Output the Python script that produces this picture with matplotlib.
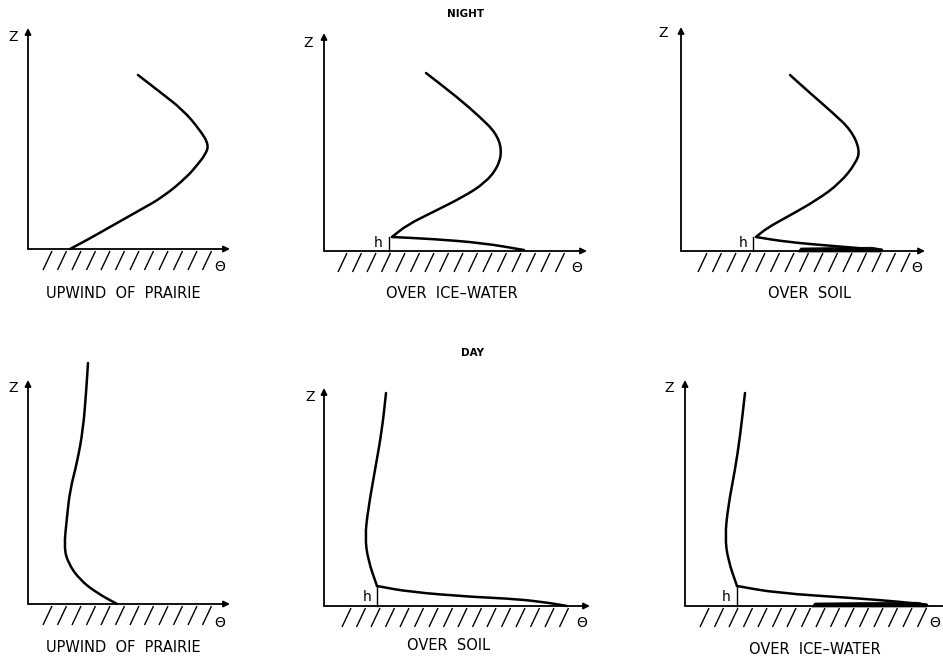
import numpy as np
import matplotlib
matplotlib.use('Agg')
import matplotlib.pyplot as plt
from matplotlib.path import Path
from matplotlib.patches import PathPatch

W, H = 943, 657

# panel data: origin in figure pixels, profile points (theta, z) relative to origin
titles = ['UPWIND  OF  PRAIRIE', 'OVER  ICE\u2013WATER', 'OVER  SOIL',
          'UPWIND  OF  PRAIRIE', 'OVER  SOIL', 'OVER  ICE\u2013WATER']
origins = [(28, 249), (324, 251), (681, 251), (28, 604), (324, 606), (685, 606)]
z_tops = [221, 218, 224, 224, 218, 226]
x_ends = [202, 263, 244, 202, 266, 270]
hatch_ranges = [(15, 175), (14, 243), (17, 229), (15, 175), (18, 243), (15, 240)]
label_pos = [(95, -44), (128, -42), (129, -42), (95, -43), (125, -39), (130, -44)]
z_label_pos = [(-15, 212), (-16, 208), (-18, 218), (-15, 216), (-14, 209), (-16, 218)]
theta_pos = [(192, -18), (253, -17), (236, -17), (192, -19), (258, -17), (250, -17)]

profiles = [
    [(110, 174), (132, 157), (155, 139), (172, 119), (181, 104), (177, 94), (170, 85),
     (159, 72), (135, 52), (112, 39), (82, 22), (59, 9), (42, 0)],
    [(102, 178), (133, 154), (156, 134), (172, 118), (178, 101), (174, 84), (161, 68),
     (139, 54), (109, 39), (83, 26), (68, 14), (109, 12), (159, 8), (200, 1)],
    [(109, 176), (129, 158), (152, 138), (170, 121), (179, 101), (175, 88), (159, 68),
     (136, 51), (106, 34), (86, 23), (75, 14), (106, 9), (152, 5), (201, 1)],
    [(60, 241), (58, 210), (55, 174), (49, 141), (42, 114), (39, 87), (36, 57),
     (40, 41), (52, 24), (69, 11), (89, 0)],
    [(62, 213), (58, 176), (51, 136), (44, 96), (41, 69), (44, 46), (53, 20),
     (86, 14), (149, 9), (193, 7), (226, 3), (243, 0)],
    [(60, 213), (55, 169), (50, 136), (43, 99), (40, 69), (43, 46), (52, 20),
     (92, 13), (168, 8), (218, 4), (242, 1)],
]
# index of the sharp corner at the top of the surface layer (None = smooth throughout)
kinks = [None, 10, 10, None, 6, 6]

# inversion layer depth h: (theta position, top, text x, text y)
h_marks = [None, (65, 14, 54, 8), (72, 14, 62, 8), None, (53, 20, 43, 9), (52, 20, 41, 9)]
# thick surface band (panels with ice/soil contrast): theta start, end
wedges = [None, None, (117, 201), None, None, (127, 242)]

fig = plt.figure(figsize=(W / 100, H / 100), dpi=100)
fig.patch.set_facecolor('white')

XL, XR, YB, YT = -40, 270, -60, 265


def smooth_path(pts):
    # quadratic bezier through midpoints, points act as control points
    pts = np.asarray(pts, dtype=float)
    if len(pts) < 3:
        return Path(pts)
    verts = [pts[0], (pts[0] + pts[1]) / 2]
    codes = [Path.MOVETO, Path.LINETO]
    for k in range(1, len(pts) - 1):
        verts += [pts[k], (pts[k] + pts[k + 1]) / 2]
        codes += [Path.CURVE3, Path.CURVE3]
    verts.append(pts[-1])
    codes.append(Path.LINETO)
    return Path(verts, codes)


for i in range(6):
    x0, y0 = origins[i]
    left = (x0 + XL) / W
    bottom = (H - (y0 - YB)) / H
    ax = fig.add_axes([left, bottom, (XR - XL) / W, (YT - YB) / H])
    ax.set_xlim(XL, XR)
    ax.set_ylim(YB, YT)
    ax.axis('off')
    ax.patch.set_alpha(0)

    # axes with arrows
    ax.annotate('', xy=(0, z_tops[i]), xytext=(0, 0),
                arrowprops=dict(arrowstyle='-|>', lw=1.3, color='k', mutation_scale=9,
                                shrinkA=0, shrinkB=0))
    ax.annotate('', xy=(x_ends[i], 0), xytext=(0, 0),
                arrowprops=dict(arrowstyle='-|>', lw=1.3, color='k', mutation_scale=9,
                                shrinkA=0, shrinkB=0))

    # hatching of the ground
    hs, he = hatch_ranges[i]
    for hx in np.arange(hs, he, 14.5):
        ax.plot([hx, hx + 9], [-21, -2], color='k', lw=1.0, solid_capstyle='butt')

    # profile (split at the kink so the corner stays sharp)
    pts = profiles[i]
    parts = [pts] if kinks[i] is None else [pts[:kinks[i] + 1], pts[kinks[i]:]]
    for part in parts:
        ax.add_patch(PathPatch(smooth_path(part), fill=False, color='k', lw=1.8,
                               joinstyle='round', capstyle='round'))

    if wedges[i] is not None:
        a, b = wedges[i]
        ax.fill([a, a + 3, b - 10, b, b, a],
                [-0.5, 3, 3.8, 2, -1, -1], color='k', lw=0.5)

    if h_marks[i] is not None:
        hx, htop, tx, ty = h_marks[i]
        ax.plot([hx, hx], [0, htop], color='k', lw=1.0)
        ax.text(tx, ty, 'h', fontsize=10, ha='center', va='center')

    ax.text(*label_pos[i], titles[i], fontsize=10.5, ha='center', va='center')
    ax.text(*z_label_pos[i], 'Z', fontsize=10, ha='center', va='center')
    ax.text(*theta_pos[i], '\u0398', fontsize=10, ha='center', va='center')

fig.text(466 / W, 1 - 14 / H, 'NIGHT', fontsize=7.5, fontweight='bold', ha='center', va='center')
fig.text(472 / W, 1 - 353 / H, 'DAY', fontsize=7.5, fontweight='bold', ha='center', va='center')

fig.savefig('out.png', dpi=100, facecolor='white')
